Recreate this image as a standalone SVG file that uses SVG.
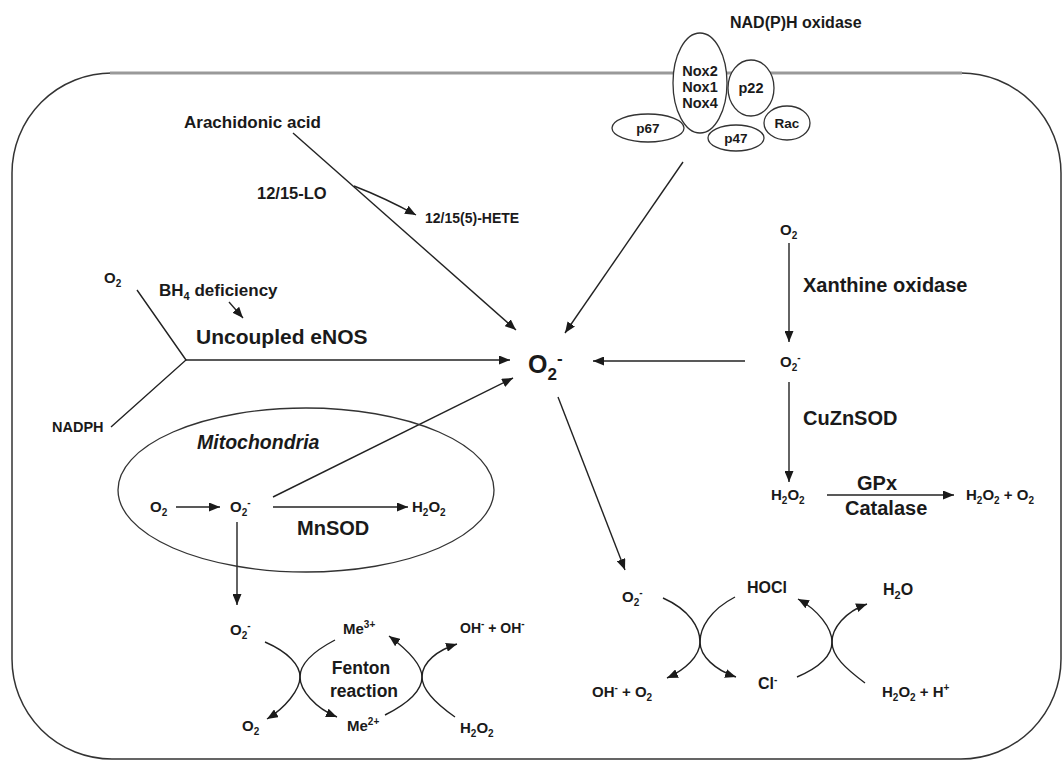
<svg xmlns="http://www.w3.org/2000/svg" width="1063" height="760" viewBox="0 0 1063 760">
<defs>
<marker id="ah" markerUnits="userSpaceOnUse" markerWidth="12" markerHeight="9" refX="11" refY="4.5" orient="auto">
<path d="M0,0 L11,4.5 L0,9 z" fill="#1a1a1a"/>
</marker>
<style>
.t{font-family:"Liberation Sans",Arial,sans-serif;font-weight:bold;fill:#1a1a1a}
.c{stroke:#222;stroke-width:1.4;fill:none}
.a{marker-end:url(#ah)}
.e{fill:#fff;stroke:#333;stroke-width:1.3}
.m{text-anchor:middle}
</style>
</defs>
<rect width="1063" height="760" fill="#fff"/>
<g id="cell">
<rect x="12" y="73" width="1049" height="686" rx="100" ry="100" fill="none" stroke="#333" stroke-width="1.5"/>
<line x1="110" y1="73" x2="962" y2="73" stroke="#999" stroke-width="3"/>
</g>
<g id="nadph-oxidase">
<text class="t" x="730" y="28" font-size="16">NAD(P)H oxidase</text>
<ellipse class="e" cx="700" cy="83" rx="27" ry="50"/>
<ellipse class="e" cx="751" cy="88" rx="23" ry="28"/>
<ellipse class="e" cx="648" cy="128" rx="36" ry="14"/>
<ellipse class="e" cx="736" cy="138" rx="28" ry="13"/>
<ellipse class="e" cx="787" cy="123" rx="23" ry="17"/>
<text class="t m" x="700" y="76" font-size="14.5">Nox2</text>
<text class="t m" x="700" y="92" font-size="14.5">Nox1</text>
<text class="t m" x="700" y="108" font-size="14.5">Nox4</text>
<text class="t m" x="751" y="93" font-size="14.5">p22</text>
<text class="t m" x="648" y="133" font-size="13.5">p67</text>
<text class="t m" x="736" y="143" font-size="13.5">p47</text>
<text class="t m" x="787" y="128" font-size="13.5">Rac</text>
</g>
<g id="connectors">
<path class="c a" d="M293,133 L516,330"/>
<path class="c a" d="M354,186 Q385,198 416,215"/>
<path class="c a" d="M229,302 L243,318"/>
<path class="c" d="M137,290 L186,360 L111,427"/>
<path class="c a" d="M186,360 L510,360"/>
<path class="c a" d="M683,162 L565,333"/>
<path class="c a" d="M745,361 L593,361"/>
<path class="c a" d="M273,497 L513,378"/>
<path class="c a" d="M558,397 L625,570"/>
<path class="c a" d="M789,243 L789,342"/>
<path class="c a" d="M789,382 L789,482"/>
<path class="c a" d="M827,495 L954,495"/>
<path class="c a" d="M176,507 L220,507"/>
<path class="c a" d="M273,507 L408,507"/>
<path class="c a" d="M237,522 L237,605"/>
<path class="c a" d="M265,642 C288,652 300,665 300,677 C300,690 315,708 337,717"/>
<path class="c a" d="M335,640 C312,652 300,665 300,677 C300,690 285,708 267,719"/>
<path class="c a" d="M385,715 C405,705 422,692 422,677 C422,662 438,650 457,644"/>
<path class="c a" d="M455,717 C435,703 422,690 422,677 C422,664 405,648 389,636"/>
<path class="c a" d="M663,598 C690,610 700,628 700,642 C700,656 715,670 736,677"/>
<path class="c a" d="M735,597 C710,610 700,628 700,642 C700,656 685,670 667,678"/>
<path class="c a" d="M797,677 C818,668 832,656 832,642 C832,628 845,612 867,604"/>
<path class="c a" d="M865,683 C845,668 832,656 832,642 C832,628 818,610 798,599"/>
</g>
<g id="arachidonic">
<text class="t" x="184" y="128" font-size="17">Arachidonic acid</text>
<text class="t" x="257" y="199" font-size="16.5">12/15-LO</text>
<text class="t" x="425" y="223" font-size="14">12/15(5)-HETE</text>
</g>
<g id="enos">
<text class="t" x="104" y="283" font-size="15">O<tspan font-size="10" dy="4">2</tspan></text>
<text class="t" x="159" y="296" font-size="17">BH<tspan font-size="11" dy="4">4</tspan><tspan dy="-4"> deficiency</tspan></text>
<text class="t" x="196" y="344" font-size="21">Uncoupled eNOS</text>
<text class="t" x="52" y="432" font-size="14.5">NADPH</text>
</g>
<g id="superoxide">
<text class="t" x="528" y="373" font-size="25">O<tspan font-size="17" dy="7">2</tspan><tspan font-size="17" dy="-16">-</tspan></text>
</g>
<g id="xanthine">
<text class="t" x="780" y="235" font-size="15">O<tspan font-size="10" dy="4">2</tspan></text>
<text class="t" x="803" y="292" font-size="20">Xanthine oxidase</text>
<text class="t" x="780" y="367" font-size="15">O<tspan font-size="10" dy="4">2</tspan><tspan font-size="10" dy="-10">-</tspan></text>
<text class="t" x="803" y="425" font-size="20">CuZnSOD</text>
<text class="t" x="771" y="500" font-size="15">H<tspan font-size="10" dy="4">2</tspan><tspan dy="-4">O</tspan><tspan font-size="10" dy="4">2</tspan></text>
<text class="t" x="857" y="490" font-size="20">GPx</text>
<text class="t" x="845" y="515" font-size="20">Catalase</text>
<text class="t" x="966" y="500" font-size="15">H<tspan font-size="10" dy="4">2</tspan><tspan dy="-4">O</tspan><tspan font-size="10" dy="4">2</tspan><tspan dy="-4"> + O</tspan><tspan font-size="10" dy="4">2</tspan></text>
</g>
<g id="mitochondria">
<ellipse cx="306" cy="490" rx="188" ry="82" fill="none" stroke="#333" stroke-width="1.3"/>
<text class="t" x="197" y="449" font-size="19.5" font-style="italic">Mitochondria</text>
<text class="t" x="150" y="512" font-size="15">O<tspan font-size="10" dy="4">2</tspan></text>
<text class="t" x="230" y="512" font-size="15">O<tspan font-size="10" dy="4">2</tspan><tspan font-size="10" dy="-10">-</tspan></text>
<text class="t" x="412" y="512" font-size="15">H<tspan font-size="10" dy="4">2</tspan><tspan dy="-4">O</tspan><tspan font-size="10" dy="4">2</tspan></text>
<text class="t" x="297" y="535" font-size="20">MnSOD</text>
</g>
<g id="fenton">
<text class="t" x="230" y="635" font-size="15">O<tspan font-size="10" dy="4">2</tspan><tspan font-size="10" dy="-10">-</tspan></text>
<text class="t" x="343" y="634" font-size="15">Me<tspan font-size="10" dy="-6">3+</tspan></text>
<text class="t" x="460" y="633" font-size="14">OH<tspan font-size="10" dy="-6">-</tspan><tspan dy="6"> + OH</tspan><tspan font-size="10" dy="-6">-</tspan></text>
<text class="t m" x="361" y="674" font-size="17.5">Fenton</text>
<text class="t m" x="364" y="697" font-size="17.5">reaction</text>
<text class="t" x="242" y="731" font-size="15">O<tspan font-size="10" dy="4">2</tspan></text>
<text class="t" x="347" y="731" font-size="15">Me<tspan font-size="10" dy="-6">2+</tspan></text>
<text class="t" x="460" y="733" font-size="15">H<tspan font-size="10" dy="4">2</tspan><tspan dy="-4">O</tspan><tspan font-size="10" dy="4">2</tspan></text>
</g>
<g id="hocl">
<text class="t" x="622" y="602" font-size="15">O<tspan font-size="10" dy="4">2</tspan><tspan font-size="10" dy="-10">-</tspan></text>
<text class="t" x="747" y="593" font-size="16">HOCl</text>
<text class="t" x="883" y="595" font-size="16">H<tspan font-size="11" dy="4">2</tspan><tspan dy="-4">O</tspan></text>
<text class="t" x="592" y="697" font-size="15">OH<tspan font-size="10" dy="-6">-</tspan><tspan dy="6"> + O</tspan><tspan font-size="10" dy="4">2</tspan></text>
<text class="t" x="758" y="689" font-size="16">Cl<tspan font-size="10" dy="-6">-</tspan></text>
<text class="t" x="882" y="697" font-size="15">H<tspan font-size="10" dy="4">2</tspan><tspan dy="-4">O</tspan><tspan font-size="10" dy="4">2</tspan><tspan dy="-4"> + H</tspan><tspan font-size="10" dy="-6">+</tspan></text>
</g>
</svg>
